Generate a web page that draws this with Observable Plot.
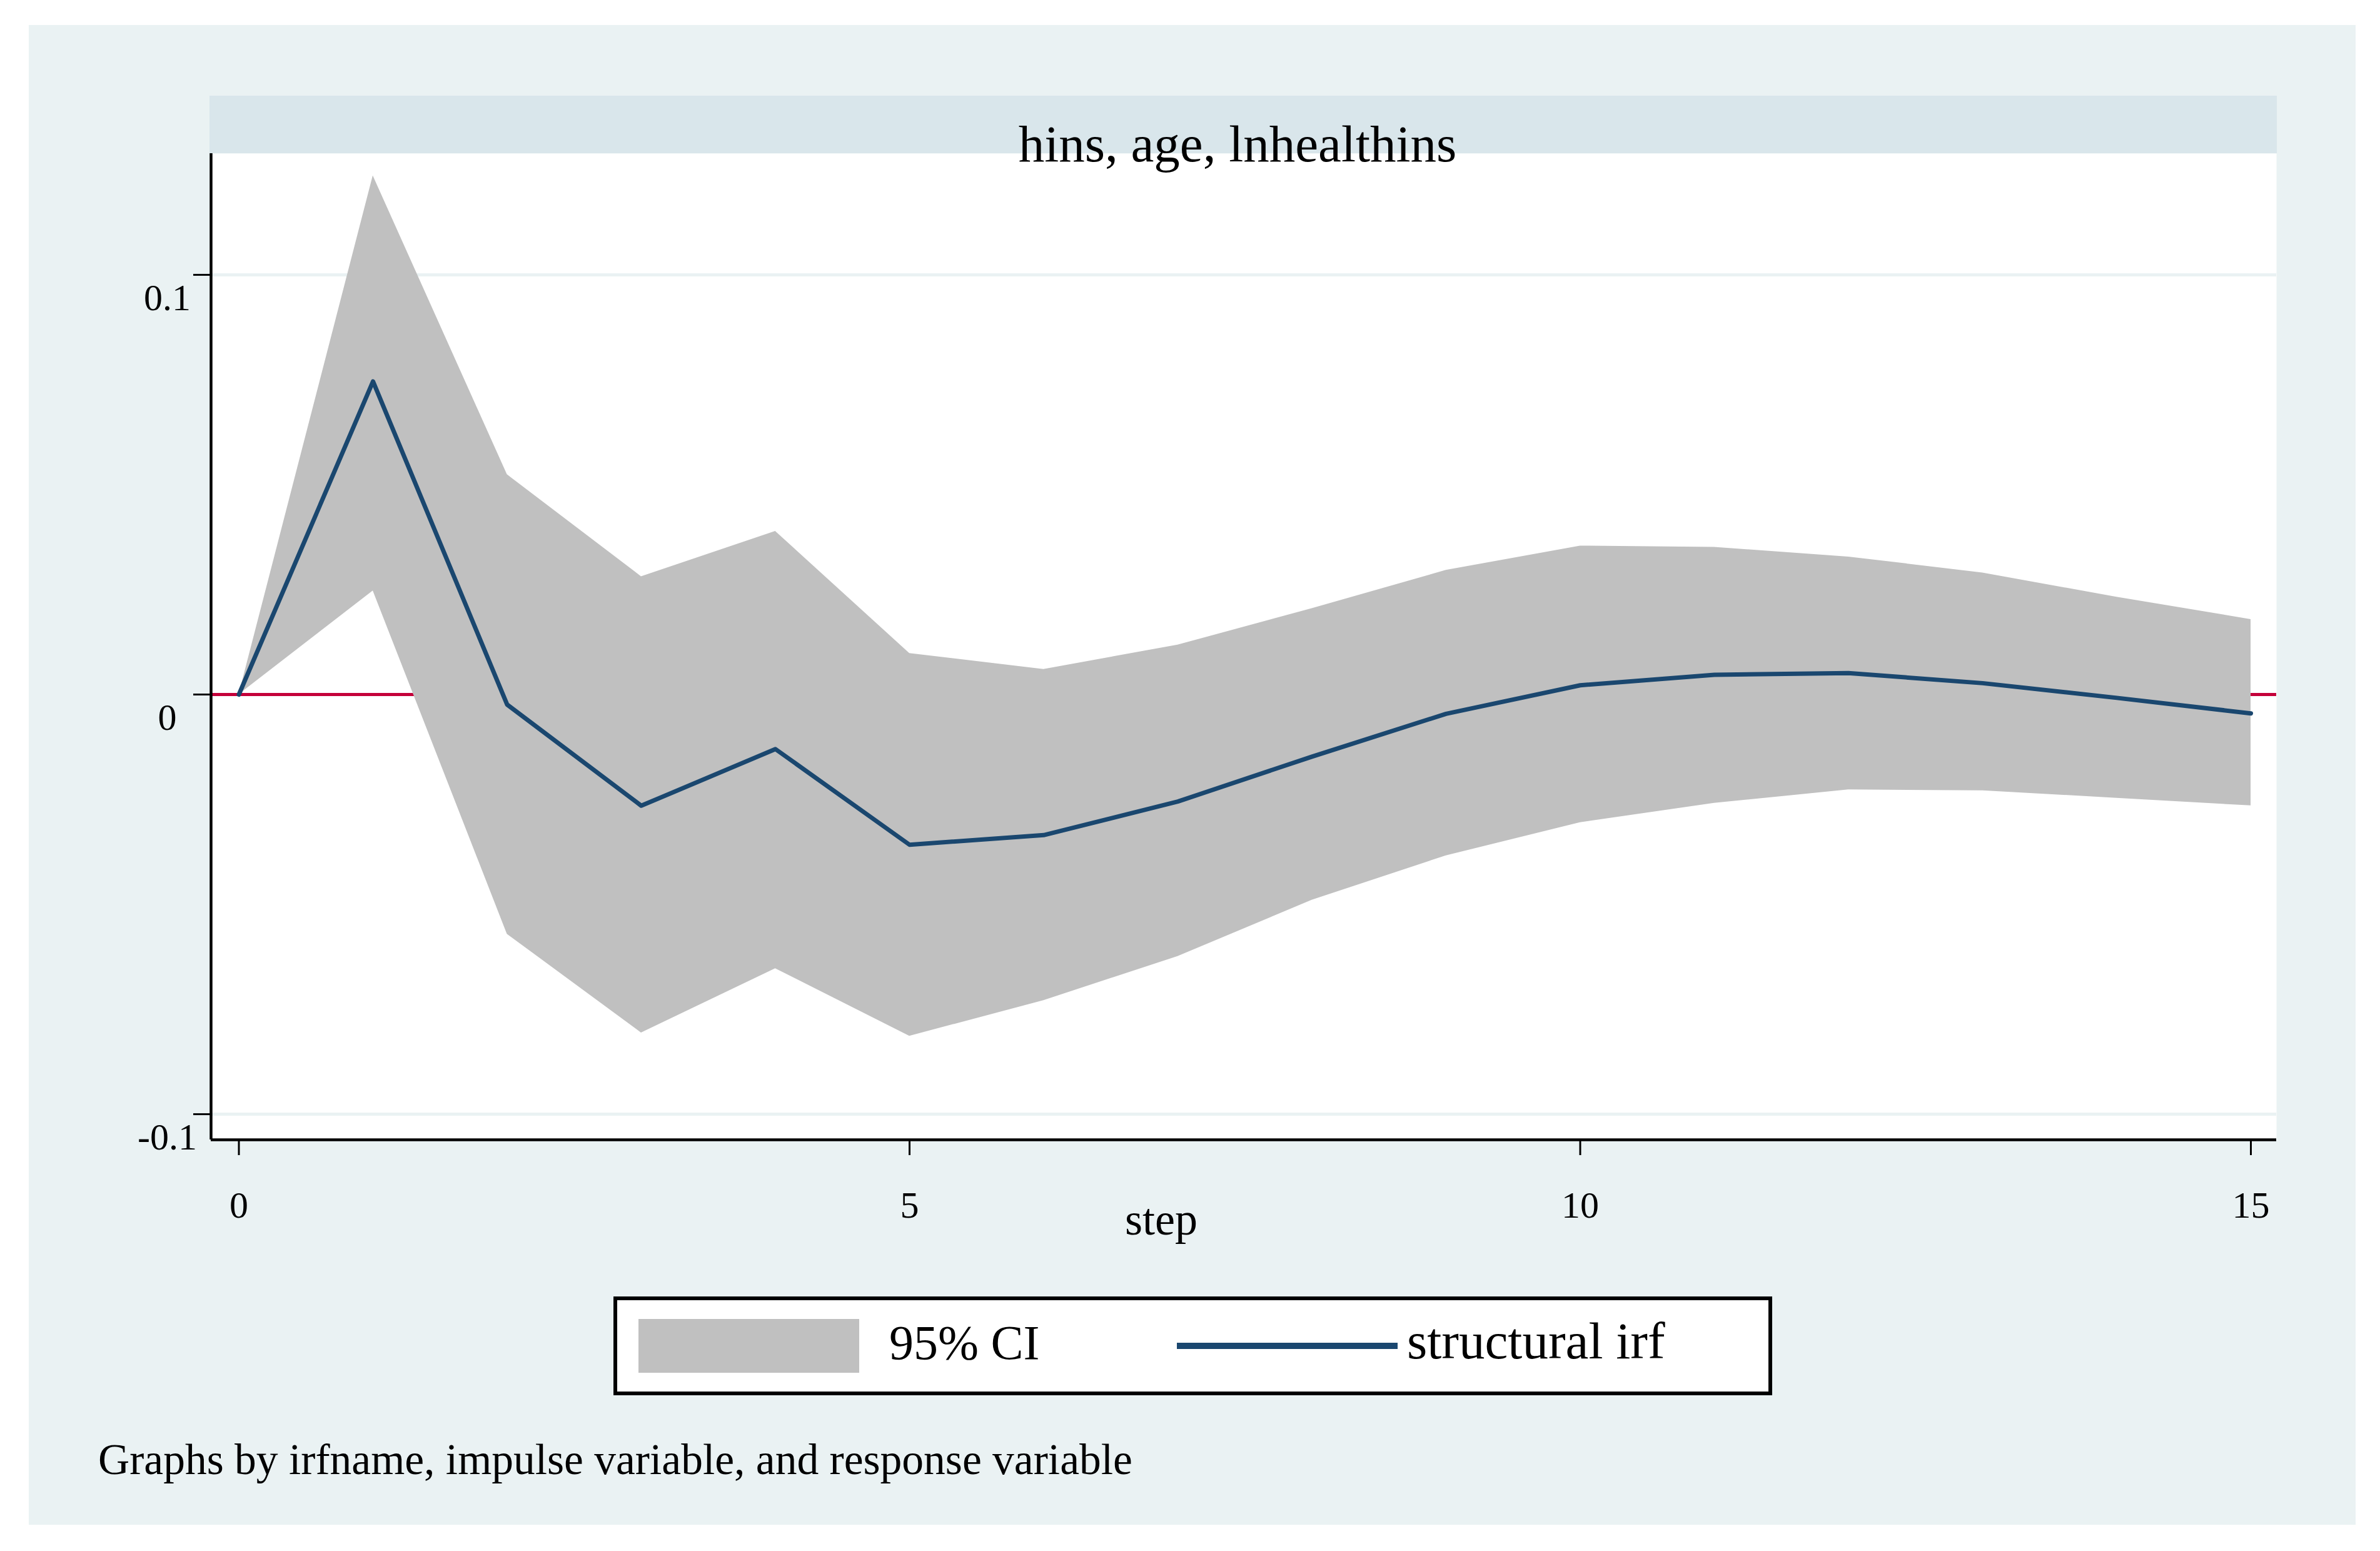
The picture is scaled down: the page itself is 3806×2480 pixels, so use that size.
<!DOCTYPE html>
<html><head><meta charset="utf-8">
<script src="https://cdn.jsdelivr.net/npm/d3@7"></script>
<script src="https://cdn.jsdelivr.net/npm/@observablehq/plot@0.6"></script>
<style>
html,body{margin:0;padding:0;background:#fff;width:3806px;height:2480px;overflow:hidden;}
#panel{position:absolute;left:46px;top:40px;width:3721px;height:2398px;background:#EAF2F3;font-family:"Liberation Serif",serif;color:#000;}
#strip{position:absolute;left:289px;top:113px;width:3306px;height:92px;background:#D9E6EB;}
#chart{position:absolute;left:0;top:0;}
#legend{position:absolute;left:935px;top:2033px;width:1853px;height:158px;box-sizing:border-box;border:6px solid #000;background:#fff;}
.sw{position:absolute;}
.lt{position:absolute;line-height:1;white-space:nowrap;}
#caption{position:absolute;left:111px;top:2259px;font-size:69.5px;line-height:1;white-space:nowrap;}
</style>
</head><body>
<div id="panel">
  <div id="strip"></div>
  <div id="chart"></div>
  <div id="legend">
    <div class="sw" style="left:34px;top:30px;width:353px;height:86px;background:#C0C0C0;"></div>
    <div class="lt" style="left:435px;top:29px;font-size:78px;">95% CI</div>
    <div class="sw" style="left:895px;top:68px;width:353px;height:10px;background:#1A476F;"></div>
    <div class="lt" style="left:1263px;top:24px;font-size:83px;">structural irf</div>
  </div>
  <div id="caption">Graphs by irfname, impulse variable, and response variable</div>
</div>
<script>
const steps = [0,1,2,3,4,5,6,7,8,9,10,11,12,13,14,15];
const irf   = [0, 0.0746, -0.0024, -0.0265, -0.0130, -0.0358, -0.0335, -0.0255, -0.0148, -0.0046, 0.0022, 0.0047, 0.0051, 0.0027, -0.0008, -0.0045];
const upper = [0, 0.1236, 0.0524, 0.0281, 0.0389, 0.0098, 0.0060, 0.0118, 0.0205, 0.0296, 0.0354, 0.0351, 0.0328, 0.0290, 0.0232, 0.0179];
const lower = [0, 0.0247, -0.0571, -0.0806, -0.0653, -0.0814, -0.0729, -0.0624, -0.0490, -0.0384, -0.0305, -0.0259, -0.0227, -0.0229, -0.0247, -0.0265];
const xTicks = [0, 5, 10, 15];
const yTicks = [-0.1, 0, 0.1];
const xDomain = [-0.2075, 15.191];
const yDomain = [-0.1061, 0.1289];
const panelTitle = "hins, age, lnhealthins";
const xLabel = "step";

const data = steps.map((s, i) => ({step: s, irf: irf[i], upper: upper[i], lower: lower[i]}));

const chart = Plot.plot({
  width: 3721,
  height: 1990,
  marginTop: 205,
  marginBottom: 208,
  marginLeft: 291,
  marginRight: 127,
  style: {background: "transparent", fontFamily: "Liberation Serif", fontSize: "60px", overflow: "visible"},
  x: {domain: xDomain},
  y: {domain: yDomain},
  marks: [
    Plot.frame({fill: "white", stroke: null}),
    Plot.ruleY(yTicks, {stroke: "#EAF2F3", strokeWidth: 5}),
    Plot.ruleY([0], {stroke: "#C4003A", strokeWidth: 5}),
    Plot.areaY(data, {x: "step", y1: "lower", y2: "upper", fill: "#C0C0C0"}),
    Plot.lineY(data, {x: "step", y: "irf", stroke: "#1A476F", strokeWidth: 7, strokeLinejoin: "round"}),
    Plot.ruleX([xDomain[0]], {stroke: "black", strokeWidth: 4.5}),
    Plot.ruleY([yDomain[0]], {stroke: "black", strokeWidth: 4.5}),
    Plot.axisY(yTicks, {tickSize: 28, text: null, strokeWidth: 3, label: null}),
    Plot.axisY(yTicks, {tickSize: 0, tickPadding: 70, textAnchor: "middle", dy: 37, fontSize: 60, tickFormat: d => String(d), label: null}),
    Plot.axisX(xTicks, {tickSize: 25, tickPadding: 57, strokeWidth: 3, fontSize: 60, tickFormat: d => String(d), label: null}),
    Plot.text([xLabel], {frameAnchor: "bottom", lineAnchor: "bottom", dx: -132, dy: 151, fontSize: 72}),
    Plot.text([panelTitle], {frameAnchor: "top", lineAnchor: "bottom", dx: -10, dy: 12, fontSize: 83})
  ]
});
document.getElementById("chart").appendChild(chart);
</script>
</body></html>
